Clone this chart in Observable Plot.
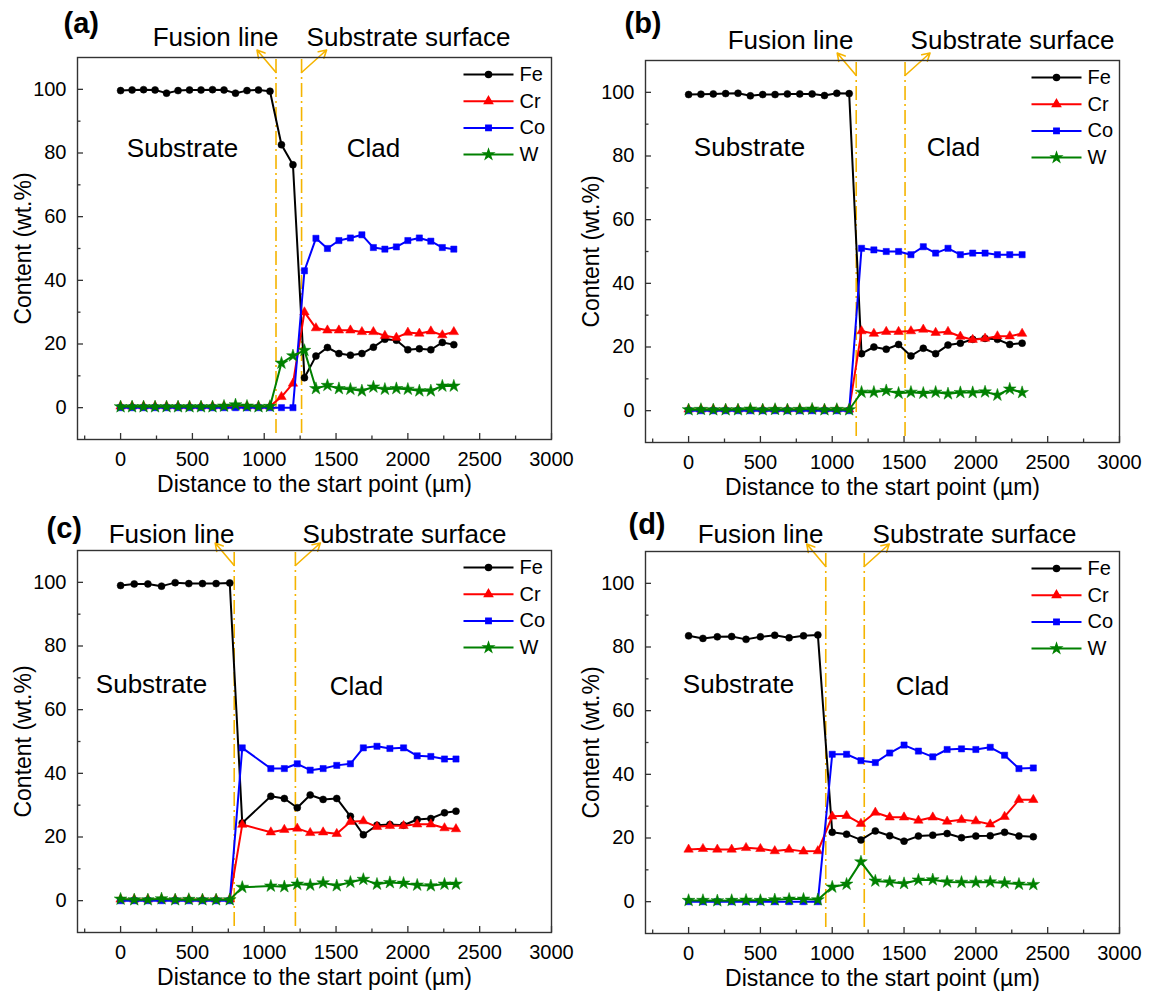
<!DOCTYPE html>
<html><head><meta charset="utf-8">
<script src="https://cdn.jsdelivr.net/npm/d3@7"></script>
<script src="https://cdn.jsdelivr.net/npm/@observablehq/plot@0.6"></script>
<style>
body{margin:0;background:#fff;}
#wrap{position:relative;width:1150px;height:992px;overflow:hidden;background:#fff;}
.panel{position:absolute;}
</style></head><body><div id="wrap"></div>
<script>
// ---------- data ----------
const elements = ["Fe", "Cr", "Co", "W"];
const xTicksMajor = [0, 500, 1000, 1500, 2000, 2500, 3000];
const xTicksMinor = [-250, 250, 750, 1250, 1750, 2250, 2750];
const yTicksMajor = [0, 20, 40, 60, 80, 100];
const yTicksMinor = [10, 30, 50, 70, 90];
const xTitle = "Distance to the start point (µm)";
const yTitle = "Content (wt.%)";
const panelTags = ["(a)", "(b)", "(c)", "(d)"];
const annotationTexts = {fusion: "Fusion line", surface: "Substrate surface", substrate: "Substrate", clad: "Clad"};

// (a)
const xA = [0,80,160,240,320,400,480,560,640,720,800,880,960,1040,1120,1200,1280,1360,1440,1520,1600,1680,1760,1840,1920,2000,2080,2160,2240,2320];
const feA = [99.6,99.8,99.9,99.8,98.8,99.6,99.8,99.8,99.9,99.8,98.8,99.6,99.8,99.4,82.6,76.3,9.4,16.2,18.9,17.0,16.5,17.0,19.0,21.5,21.2,18.2,18.5,18.2,20.5,19.8];
const crA = [0.4,0.4,0.4,0.4,0.4,0.4,0.4,0.4,0.4,0.4,0.4,0.4,0.4,0.4,3.4,7.6,30.0,25.0,24.3,24.3,24.3,23.8,23.8,22.6,22.0,23.6,23.3,24.0,22.8,23.8];
const coA = [0,0,0,0,0,0,0,0,0,0,0,0,0,0,0,0,43.0,53.2,50.0,52.5,53.3,54.3,50.3,49.8,50.5,52.5,53.3,52.3,50.3,49.8];
const wA  = [0.3,0.3,0.3,0.3,0.3,0.3,0.3,0.3,0.3,0.5,0.9,0.5,0.3,0.4,14.0,16.3,18.0,6.0,7.0,6.0,5.8,5.3,6.5,5.8,6.0,5.8,5.3,5.3,6.8,6.8];
const fusionA = 1082, surfaceA = 1260;

// (b)
const xB = [0,86,172,258,344,430,516,602,688,774,860,946,1032,1118,1204,1290,1376,1462,1548,1634,1720,1806,1892,1978,2064,2150,2236,2322];
const feB = [99.3,99.4,99.5,99.6,99.7,98.9,99.3,99.3,99.5,99.5,99.5,99.0,99.7,99.6,17.9,20.0,19.3,20.8,17.2,19.6,17.9,20.6,21.2,22.4,22.7,22.4,20.8,21.2];
const crB = [0.4,0.4,0.4,0.4,0.4,0.4,0.4,0.4,0.4,0.4,0.4,0.4,0.4,0.4,25.0,24.2,24.8,24.8,25.0,25.5,24.5,24.8,23.3,22.3,22.7,23.4,23.4,24.2];
const coB = [0,0,0,0,0,0,0,0,0,0,0,0,0,0,51.0,50.5,50.0,50.0,49.0,51.5,49.5,51.0,49.0,49.5,49.5,49.0,49.0,49.0];
const wB  = [0.3,0.4,0.3,0.3,0.3,0.5,0.3,0.4,0.3,0.4,0.5,0.3,0.4,0.3,5.8,5.8,6.3,5.5,5.8,5.5,5.8,5.3,5.7,5.7,5.9,4.9,6.8,5.7];
const fusionB = 1167, surfaceB = 1507;

// (c)
const xC = [0,95,190,285,380,475,570,665,760,847,1046,1140,1230,1320,1410,1505,1600,1690,1785,1875,1970,2065,2160,2255,2335];
const feC = [99.0,99.5,99.5,98.8,99.9,99.6,99.6,99.6,99.8,24.4,32.8,32.1,29.2,33.2,31.8,32.1,26.5,20.7,23.7,23.9,23.7,25.5,25.8,27.6,28.1];
const crC = [0.4,0.4,0.4,0.4,0.4,0.4,0.4,0.4,0.4,23.9,21.5,22.3,22.7,21.3,21.5,21.0,24.8,25.0,23.2,23.5,23.5,24.0,24.0,22.8,22.5];
const coC = [0,0,0,0,0,0,0,0,0,48.0,41.5,41.5,43.0,41.0,41.5,42.5,43.0,48.0,48.5,47.8,48.0,45.5,45.3,44.5,44.5];
const wC  = [0.5,0.3,0.3,0.6,0.3,0.4,0.3,0.3,0.3,4.2,4.6,4.4,5.2,4.9,5.6,4.7,5.8,6.7,5.2,5.7,5.5,4.9,4.7,5.2,5.2];
const fusionC = 791, surfaceC = 1217;

// (d)
const xD = [0,100,200,300,400,500,600,700,800,900,1000,1100,1200,1300,1400,1500,1600,1700,1800,1900,2000,2100,2200,2300,2400];
const feD = [83.5,82.7,83.2,83.3,82.4,83.2,83.7,82.9,83.5,83.8,21.8,21.2,19.4,22.2,20.7,19.0,20.6,20.9,21.4,20.1,20.6,20.7,21.8,20.6,20.4];
const crD = [16.4,16.6,16.4,16.4,16.9,16.6,15.9,16.4,15.8,15.9,26.8,27.0,24.5,28.0,26.5,26.5,25.5,26.5,25.2,25.7,25.3,24.3,26.7,32.0,32.0];
const coD = [0,0,0,0,0,0,0,0,0,0,46.3,46.3,44.3,43.7,46.7,49.2,47.3,45.5,47.8,48.0,47.8,48.5,46.0,41.8,42.0];
const wD  = [0.4,0.4,0.3,0.4,0.5,0.4,0.6,0.8,0.8,0.6,4.6,5.5,12.5,6.5,6.2,5.7,6.8,6.9,6.2,6.1,6.1,6.2,5.9,5.5,5.4];
const fusionD = 955, surfaceD = 1223;

// ---------- styles & layout ----------
const styles = {
  colors: {Fe: "#000000", Cr: "#ff0000", Co: "#0000ff", W: "#008000"},
  symbols: {Fe: "circle", Cr: "triangle", Co: "square", W: "star"},
  gold: "#f5b400",
  font: "'Liberation Sans', Arial, Helvetica, sans-serif"
};
const W = 575, H = 495, M = {left: 77, right: 24, top: 57, bottom: 56};
const X_DOMAIN = [-300, 3000], Y_DOMAIN = [-10, 110];
const fw = W - M.left - M.right, fh = H - M.top - M.bottom;
const xPerPx = (X_DOMAIN[1] - X_DOMAIN[0]) / fw, yPerPx = (Y_DOMAIN[1] - Y_DOMAIN[0]) / fh;
const xAt = px => X_DOMAIN[0] + (px - M.left) * xPerPx;
const yAt = py => Y_DOMAIN[1] - (py - M.top) * yPerPx;

const legendLayout = {x1: 463, x2: 513, xm: 488, xt: 519, y0: 74, dy: 26.7};
const arrowLayout = {yBottom: 72, yTip: 49.5, dxFusion: -19, dxSurface: 25, ruleBottom: 433};

const panelLayouts = [
  {left: 0,   top: 0,   tag: [63, 23], fusion: [215, 45], surface: [408, 45], substrate: [182, 148], clad: [373, 148]},
  {left: 568, top: 3,   tag: [56, 20], fusion: [222, 45], surface: [444, 45], substrate: [181, 144], clad: [385, 144]},
  {left: 0,   top: 493, tag: [46, 35], fusion: [171, 49], surface: [404, 49], substrate: [151, 191], clad: [356, 193]},
  {left: 568, top: 494, tag: [60, 30], fusion: [192, 48], surface: [406, 48], substrate: [170, 190], clad: [354, 192]}
];

const panels = [
  {x: xA, series: [feA, crA, coA, wA], fusion: fusionA, surface: surfaceA},
  {x: xB, series: [feB, crB, coB, wB], fusion: fusionB, surface: surfaceB},
  {x: xC, series: [feC, crC, coC, wC], fusion: fusionC, surface: surfaceC},
  {x: xD, series: [feD, crD, coD, wD], fusion: fusionD, surface: surfaceD}
];

function pxText(str, [px, py], opts) {
  return Plot.text([str], {text: d => d, frameAnchor: "top-left", dx: px - M.left, dy: py - M.top,
    textAnchor: "middle", lineAnchor: "middle", ...opts});
}

function makePanel(p, L, tag) {
  const marks = [];
  // dash-dot boundary lines
  marks.push(Plot.ruleX([p.fusion, p.surface], {x: d => d, y1: yAt(arrowLayout.ruleBottom), y2: Y_DOMAIN[1],
    stroke: styles.gold, strokeWidth: 1.6, strokeDasharray: "14,4,2,4"}));
  // arrows
  const arrows = [
    {x1: p.fusion, y1: yAt(arrowLayout.yBottom), x2: p.fusion + arrowLayout.dxFusion * xPerPx, y2: yAt(arrowLayout.yTip)},
    {x1: p.surface, y1: yAt(arrowLayout.yBottom), x2: p.surface + arrowLayout.dxSurface * xPerPx, y2: yAt(arrowLayout.yTip)}
  ];
  marks.push(Plot.arrow(arrows, {x1: "x1", y1: "y1", x2: "x2", y2: "y2", stroke: styles.gold, strokeWidth: 1.6, headLength: 8, bend: 0}));
  // data
  elements.forEach((el, k) => {
    const rows = p.x.map((x, i) => ({x, y: p.series[k][i]}));
    marks.push(Plot.line(rows, {x: "x", y: "y", stroke: styles.colors[el], strokeWidth: 2}));
    marks.push(Plot.dot(rows, {x: "x", y: "y", symbol: styles.symbols[el], r: el === "W" ? 4 : 3.5,
      fill: styles.colors[el], stroke: styles.colors[el], strokeWidth: 0.5}));
  });
  // legend
  elements.forEach((el, k) => {
    const yy = yAt(legendLayout.y0 + k * legendLayout.dy);
    marks.push(Plot.link([el], {x1: xAt(legendLayout.x1), x2: xAt(legendLayout.x2), y1: yy, y2: yy,
      stroke: styles.colors[el], strokeWidth: 2}));
    marks.push(Plot.dot([el], {x: xAt(legendLayout.xm), y: yy, symbol: styles.symbols[el], r: 3,
      fill: styles.colors[el], stroke: styles.colors[el]}));
    marks.push(Plot.text([el], {x: xAt(legendLayout.xt), y: yy, text: d => d, textAnchor: "start", fontSize: 20, fill: "#000"}));
  });
  // axes
  marks.push(Plot.axisX(xTicksMajor, {anchor: "bottom", tickSize: -6, fill: "none", label: null, stroke: "#333", strokeWidth: 1.3, tickFormat: () => ""}));
  marks.push(Plot.axisX(xTicksMinor, {anchor: "bottom", tickSize: -3.5, fill: "none", label: null, stroke: "#333", strokeWidth: 1.3, tickFormat: () => ""}));
  marks.push(Plot.axisY(yTicksMajor, {anchor: "left", tickSize: -6, fill: "none", label: null, stroke: "#333", strokeWidth: 1.3, tickFormat: () => ""}));
  marks.push(Plot.axisY(yTicksMinor, {anchor: "left", tickSize: -3.5, fill: "none", label: null, stroke: "#333", strokeWidth: 1.3, tickFormat: () => ""}));
  marks.push(Plot.axisX(xTicksMajor, {anchor: "bottom", tickSize: 0, tickPadding: 12, label: null, fontSize: 20, fill: "#000", tickFormat: d => String(d)}));
  marks.push(Plot.axisY(yTicksMajor, {anchor: "left", tickSize: 0, tickPadding: 11, label: null, fontSize: 20, fill: "#000", tickFormat: d => String(d)}));
  marks.push(Plot.text([xTitle], {text: d => d, frameAnchor: "bottom", dy: 45, fontSize: 23, fill: "#000",
    textAnchor: "middle", lineAnchor: "middle"}));
  marks.push(Plot.text([yTitle], {text: d => d, frameAnchor: "left", dx: -54, rotate: -90, fontSize: 23, fill: "#000",
    textAnchor: "middle", lineAnchor: "middle"}));
  // annotations
  marks.push(pxText(tag, L.tag, {fontSize: 29, fontWeight: "bold", textAnchor: "start", fill: "#000"}));
  marks.push(pxText(annotationTexts.fusion, L.fusion, {fontSize: 26, lineAnchor: "bottom", fill: "#000"}));
  marks.push(pxText(annotationTexts.surface, L.surface, {fontSize: 26, lineAnchor: "bottom", fill: "#000"}));
  marks.push(pxText(annotationTexts.substrate, L.substrate, {fontSize: 26, fill: "#000"}));
  marks.push(pxText(annotationTexts.clad, L.clad, {fontSize: 26, fill: "#000"}));
  marks.push(Plot.frame({stroke: "#333", strokeWidth: 1.4}));

  return Plot.plot({
    width: W, height: H,
    marginLeft: M.left, marginRight: M.right, marginTop: M.top, marginBottom: M.bottom,
    x: {domain: X_DOMAIN},
    y: {domain: Y_DOMAIN},
    style: {fontFamily: styles.font, fontSize: "20px", color: "#000", background: "transparent", overflow: "visible"},
    marks
  });
}

const wrap = document.getElementById("wrap");
panels.forEach((p, i) => {
  const L = panelLayouts[i];
  const div = document.createElement("div");
  div.className = "panel";
  div.style.left = L.left + "px";
  div.style.top = L.top + "px";
  div.appendChild(makePanel(p, L, panelTags[i]));
  wrap.appendChild(div);
});
</script>
</body></html>
